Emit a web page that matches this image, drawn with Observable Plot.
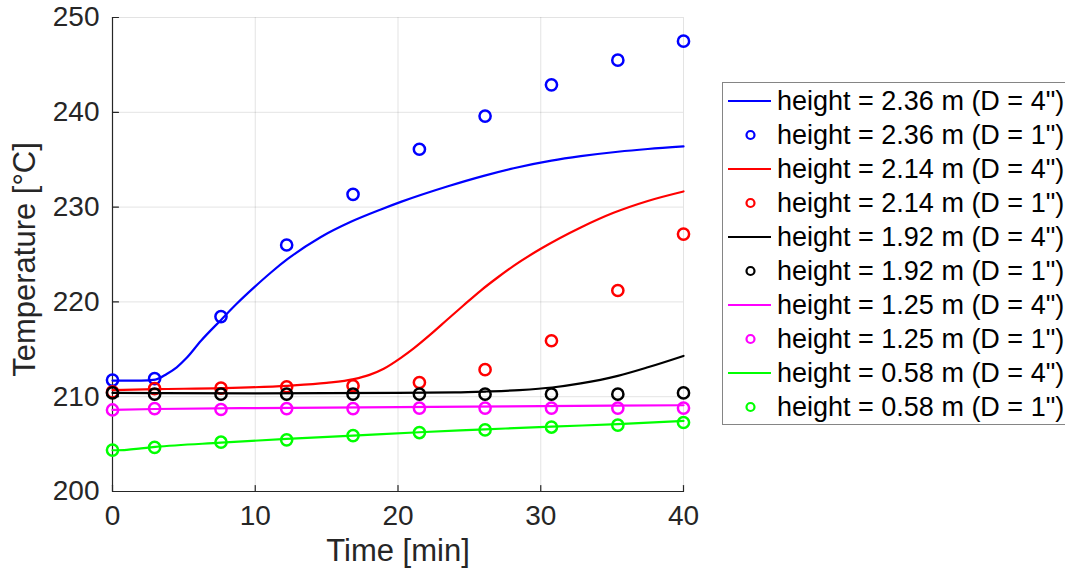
<!DOCTYPE html>
<html>
<head>
<meta charset="utf-8">
<script src="https://cdn.jsdelivr.net/npm/d3@7"></script>
<script src="https://cdn.jsdelivr.net/npm/@observablehq/plot@0.6"></script>
<style>
  body { margin: 0; background: #fff; }
  #wrap { position: relative; width: 1065px; height: 575px; overflow: hidden; font-family: "Liberation Sans", Arial, sans-serif; }
  #legend { position: absolute; left: 722px; top: 82px; width: 360px; height: 343px; border: 1px solid #858585; box-sizing: border-box; background: #fff; }
  .row { position: absolute; left: 0; height: 34px; display: flex; align-items: center; white-space: nowrap; }
  .row svg { display: block; }
  .row span { font-size: 27px; color: #000; margin-left: 2px; }
</style>
</head>
<body>
<div id="wrap"><div id="chart"></div><div id="legend"></div></div>
<script>
// ---- data ----
const xTicks = [0, 10, 20, 30, 40];
const yTicks = [200, 210, 220, 230, 240, 250];

// measured points (D = 1")
const timeD1 = [0, 2.95, 7.6, 12.2, 16.85, 21.5, 26.1, 30.75, 35.4, 40];
const d1_236 = [211.75, 211.9, 218.45, 226.0, 231.35, 236.1, 239.6, 242.9, 245.5, 247.5];
const d1_214 = [210.5, 210.85, 210.9, 211.05, 211.15, 211.5, 212.85, 215.9, 221.2, 227.15];
const d1_192 = [210.4, 210.27, 210.27, 210.27, 210.27, 210.27, 210.27, 210.27, 210.27, 210.4];
const d1_125 = [208.6, 208.75, 208.65, 208.75, 208.75, 208.8, 208.8, 208.8, 208.8, 208.8];
const d1_058 = [204.37, 204.65, 205.2, 205.45, 205.9, 206.22, 206.5, 206.8, 207.0, 207.28];

// simulated curves (D = 4")
const t4_236 = [0, 1, 2, 3, 3.8, 4.5, 5.2, 6.2, 7.6, 8.7, 9.9, 11.1, 12.25, 14.6, 16.7, 18.8, 20.2, 23.5, 26, 28.1, 30.75, 32.8, 35.4, 37.5, 40];
const d4_236 = [211.7, 211.7, 211.7, 211.8, 212.4, 213.1, 214.1, 215.9, 218.1, 219.8, 221.5, 223.1, 224.5, 226.85, 228.45, 229.75, 230.55, 232.2, 233.3, 234.1, 234.9, 235.37, 235.84, 236.13, 236.4];
const t4_214 = [0, 3, 7.6, 12.25, 15, 16.9, 18, 19, 20.2, 21.1, 22.3, 23.5, 24.6, 25.8, 27, 28.1, 30, 32.8, 35.1, 37.5, 40];
const d4_214 = [210.7, 210.8, 210.9, 211.15, 211.45, 211.85, 212.3, 212.95, 214.1, 215.1, 216.6, 218.2, 219.65, 221.2, 222.6, 223.8, 225.6, 227.85, 229.4, 230.65, 231.65];
const t4_192 = [0, 10, 20, 24, 26.2, 28.5, 30.8, 32.8, 35.4, 37.5, 40];
const d4_192 = [210.4, 210.35, 210.4, 210.45, 210.55, 210.7, 210.97, 211.4, 212.2, 213.1, 214.3];
const t4_125 = [0, 3, 10, 20, 30, 40];
const d4_125 = [208.6, 208.7, 208.8, 208.9, 209.0, 209.1];
const t4_058 = [0, 1, 2, 3, 7.6, 12.2, 16.85, 21.5, 26.1, 30.75, 35.4, 40];
const d4_058 = [204.35, 204.4, 204.55, 204.7, 205.15, 205.55, 205.9, 206.25, 206.55, 206.85, 207.1, 207.45];

const heights = ["2.36", "2.14", "1.92", "1.25", "0.58"];
const colors = ["#0000ff", "#ff0000", "#000000", "#ff00ff", "#00ff00"];
const lineTimes = [t4_236, t4_214, t4_192, t4_125, t4_058];
const lineVals = [d4_236, d4_214, d4_192, d4_125, d4_058];
const pointVals = [d1_236, d1_214, d1_192, d1_125, d1_058];

// ---- build ----
const tickUp = {draw(ctx, l) { ctx.moveTo(0, 0); ctx.lineTo(0, -l); }};
const axisColor = "#262626";
const seriesMarks = [];
heights.forEach((h, i) => {
  const lineData = lineTimes[i].map((t, j) => ({t, v: lineVals[i][j]}));
  const ptData = timeD1.map((t, j) => ({t, v: pointVals[i][j]}));
  seriesMarks.push(Plot.line(lineData, {x: "t", y: "v", stroke: colors[i], strokeWidth: 2.2, curve: "monotone-x"}));
  seriesMarks.push(Plot.dot(ptData, {x: "t", y: "v", r: 5.6, stroke: colors[i], strokeWidth: 2.5, fill: "none"}));
});

const chart = Plot.plot({
  width: 1065,
  height: 575,
  marginLeft: 112,
  marginRight: 382,
  marginTop: 17,
  marginBottom: 84,
  style: {fontFamily: "'Liberation Sans', Arial, sans-serif", background: "#fff", overflow: "visible"},
  x: {domain: [0, 40]},
  y: {domain: [200, 250]},
  marks: [
    Plot.gridX(xTicks, {stroke: "#000", strokeOpacity: 0.11}),
    Plot.gridY(yTicks, {stroke: "#000", strokeOpacity: 0.11}),
    Plot.ruleY([200], {stroke: axisColor, strokeWidth: 1.2}),
    Plot.ruleX([0], {stroke: axisColor, strokeWidth: 1.2}),
    Plot.vector(xTicks, {x: d => d, y: 200, length: 6, rotate: 0, anchor: "start", shape: tickUp, stroke: axisColor, strokeWidth: 1.2}),
    Plot.vector(yTicks, {x: 0, y: d => d, length: 6, rotate: 90, anchor: "start", shape: tickUp, stroke: axisColor, strokeWidth: 1.2}),
    Plot.axisX(xTicks, {tickSize: 0, tickPadding: 14, fontSize: 28, fill: axisColor, label: null}),
    Plot.axisY(yTicks, {tickSize: 0, tickPadding: 13, fontSize: 28, fill: axisColor, label: null}),
    Plot.text(["Time [min]"], {frameAnchor: "bottom", dy: 60, fontSize: 31, fill: axisColor, lineAnchor: "middle"}),
    Plot.text(["Temperature [°C]"], {frameAnchor: "left", textAnchor: "middle", dx: -87, dy: 5, rotate: -90, fontSize: 31, fill: axisColor, lineAnchor: "middle"}),
    ...seriesMarks
  ]
});
document.getElementById("chart").appendChild(chart);

// ---- legend ----
const legend = document.getElementById("legend");
let k = 0;
heights.forEach((h, i) => {
  ["4", "1"].forEach(D => {
    const row = document.createElement("div");
    row.className = "row";
    row.style.top = (1 + k * 34) + "px";
    const sample = D === "4"
      ? `<line x1="5" x2="48" y1="17" y2="17" stroke="${colors[i]}" stroke-width="2.2"/>`
      : `<circle cx="27.5" cy="17" r="4" fill="none" stroke="${colors[i]}" stroke-width="2.2"/>`;
    row.innerHTML = `<svg width="52" height="34">${sample}</svg><span>height = ${h} m (D = ${D}")</span>`;
    legend.appendChild(row);
    k++;
  });
});
</script>
</body>
</html>
